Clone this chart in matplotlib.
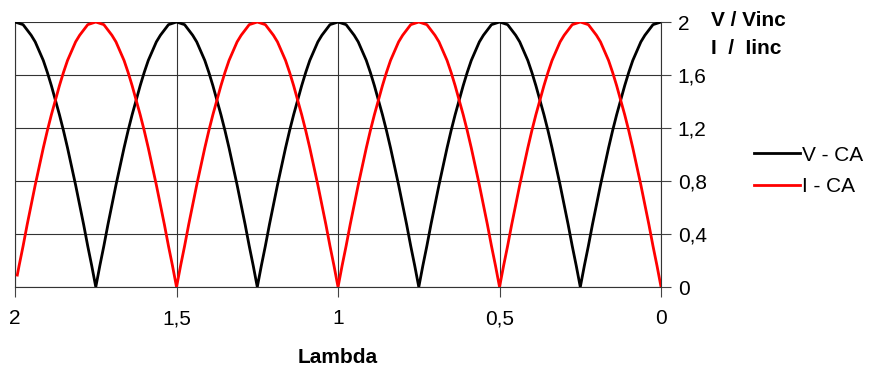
import matplotlib
matplotlib.use("Agg")
import matplotlib.pyplot as plt
from matplotlib.lines import Line2D

plt.rcParams['font.family'] = ['Liberation Sans', 'DejaVu Sans']

# lambda sample positions, from 2 down to 0 (step 0.0125)
lam = [round(2 - 0.0125 * k, 4) for k in range(161)]

# V / Vinc, open circuit
v_ca = [
    2.00, 1.99, 1.98, 1.94, 1.90, 1.85, 1.78, 1.71, 1.62, 1.52, 1.41, 1.30, 1.18, 1.05, 0.91, 0.77, 0.62, 0.47, 0.31, 0.16,
    0.00, 0.16, 0.31, 0.47, 0.62, 0.77, 0.91, 1.05, 1.18, 1.30, 1.41, 1.52, 1.62, 1.71, 1.78, 1.85, 1.90, 1.94, 1.98, 1.99,
    2.00, 1.99, 1.98, 1.94, 1.90, 1.85, 1.78, 1.71, 1.62, 1.52, 1.41, 1.30, 1.18, 1.05, 0.91, 0.77, 0.62, 0.47, 0.31, 0.16,
    0.00, 0.16, 0.31, 0.47, 0.62, 0.77, 0.91, 1.05, 1.18, 1.30, 1.41, 1.52, 1.62, 1.71, 1.78, 1.85, 1.90, 1.94, 1.98, 1.99,
    2.00, 1.99, 1.98, 1.94, 1.90, 1.85, 1.78, 1.71, 1.62, 1.52, 1.41, 1.30, 1.18, 1.05, 0.91, 0.77, 0.62, 0.47, 0.31, 0.16,
    0.00, 0.16, 0.31, 0.47, 0.62, 0.77, 0.91, 1.05, 1.18, 1.30, 1.41, 1.52, 1.62, 1.71, 1.78, 1.85, 1.90, 1.94, 1.98, 1.99,
    2.00, 1.99, 1.98, 1.94, 1.90, 1.85, 1.78, 1.71, 1.62, 1.52, 1.41, 1.30, 1.18, 1.05, 0.91, 0.77, 0.62, 0.47, 0.31, 0.16,
    0.00, 0.16, 0.31, 0.47, 0.62, 0.77, 0.91, 1.05, 1.18, 1.30, 1.41, 1.52, 1.62, 1.71, 1.78, 1.85, 1.90, 1.94, 1.98, 1.99,
    2.00]

# I / Iinc, open circuit (first sample sits just inside lambda = 2)
i_lam = [1.993] + lam[1:]
i_ca = [
    0.09, 0.16, 0.31, 0.47, 0.62, 0.77, 0.91, 1.05, 1.18, 1.30, 1.41, 1.52, 1.62, 1.71, 1.78, 1.85, 1.90, 1.94, 1.98, 1.99,
    2.00, 1.99, 1.98, 1.94, 1.90, 1.85, 1.78, 1.71, 1.62, 1.52, 1.41, 1.30, 1.18, 1.05, 0.91, 0.77, 0.62, 0.47, 0.31, 0.16,
    0.00, 0.16, 0.31, 0.47, 0.62, 0.77, 0.91, 1.05, 1.18, 1.30, 1.41, 1.52, 1.62, 1.71, 1.78, 1.85, 1.90, 1.94, 1.98, 1.99,
    2.00, 1.99, 1.98, 1.94, 1.90, 1.85, 1.78, 1.71, 1.62, 1.52, 1.41, 1.30, 1.18, 1.05, 0.91, 0.77, 0.62, 0.47, 0.31, 0.16,
    0.00, 0.16, 0.31, 0.47, 0.62, 0.77, 0.91, 1.05, 1.18, 1.30, 1.41, 1.52, 1.62, 1.71, 1.78, 1.85, 1.90, 1.94, 1.98, 1.99,
    2.00, 1.99, 1.98, 1.94, 1.90, 1.85, 1.78, 1.71, 1.62, 1.52, 1.41, 1.30, 1.18, 1.05, 0.91, 0.77, 0.62, 0.47, 0.31, 0.16,
    0.00, 0.16, 0.31, 0.47, 0.62, 0.77, 0.91, 1.05, 1.18, 1.30, 1.41, 1.52, 1.62, 1.71, 1.78, 1.85, 1.90, 1.94, 1.98, 1.99,
    2.00, 1.99, 1.98, 1.94, 1.90, 1.85, 1.78, 1.71, 1.62, 1.52, 1.41, 1.30, 1.18, 1.05, 0.91, 0.77, 0.62, 0.47, 0.31, 0.16,
    0.00]

x_ticks = [2, 1.5, 1, 0.5, 0]
x_labels = ["2", "1,5", "1", "0,5", "0"]
y_ticks = [0, 0.4, 0.8, 1.2, 1.6, 2]
y_labels = ["0", "0,4", "0,8", "1,2", "1,6", "2"]

fs = 15

fig = plt.figure(figsize=(8.69, 3.68), dpi=100)
ax = fig.add_axes([0.0173, 0.2201, 0.7434, 0.7201])

ax.plot(lam, v_ca, color="black", lw=2, zorder=3)
ax.plot(i_lam, i_ca, color="red", lw=2, zorder=3)

ax.set_xlim(2, 0)
ax.set_ylim(0, 2)
ax.set_xticks(x_ticks)
ax.set_xticklabels(x_labels)
ax.set_yticks(y_ticks)
ax.set_yticklabels(y_labels)
ax.yaxis.tick_right()
ax.tick_params(labelsize=fs, length=7, width=0.8, color="#444444")
ax.tick_params(axis="x", pad=9)
ax.tick_params(axis="y", pad=5)
ax.grid(True, color="#333333", lw=0.8)
for s in ax.spines.values():
    s.set_color("#333333")
    s.set_linewidth(0.8)
ax.spines["top"].set_visible(False)

ax.set_xlabel("Lambda", fontsize=fs, fontweight="bold", labelpad=14)

fig.text(711 / 869, 1 - 21 / 368, "V / Vinc", fontsize=fs, fontweight="bold", va="center")
fig.text(711 / 869, 1 - 48 / 368, "I  /  Iinc", fontsize=fs, fontweight="bold", va="center")

handles = [Line2D([], [], color="black", lw=2), Line2D([], [], color="red", lw=2)]
fig.legend(handles, ["V - CA", "I - CA"], loc="center left",
           bbox_to_anchor=(735 / 869, 1 - 171 / 368), frameon=False,
           fontsize=fs, handlelength=2.2, handletextpad=0.1, labelspacing=0.6)

fig.savefig("out.png", dpi=100)
